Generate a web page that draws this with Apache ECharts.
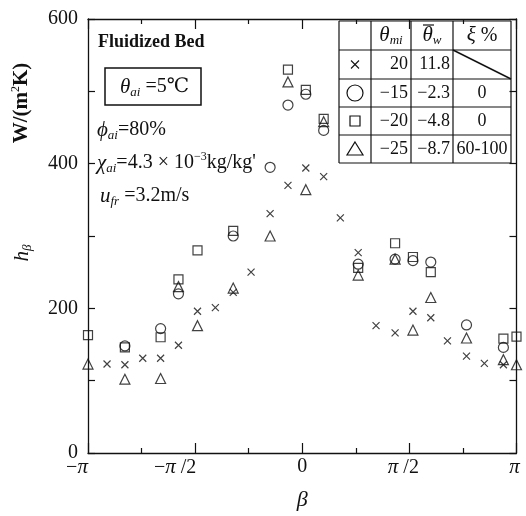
<!DOCTYPE html>
<html>
<head>
<meta charset="utf-8">
<script src="https://cdn.jsdelivr.net/npm/echarts@6/dist/echarts.min.js"></script>
<style>
html, body { margin: 0; background: #fff; }
#chart { width: 526px; height: 516px; }
</style>
</head>
<body>
<div id="chart"></div>
<script>
// beta in degrees (the axis prints multiples of pi), h in W/(m2K)
const crossBeta = [-164, -149, -134, -119, -104, -88, -73, -58, -43, -27, -12, 3, 18, 32, 47, 62, 78, 93, 108, 122, 138, 153, 169];
const crossH = [123, 122, 131, 131, 149, 196, 201, 222, 250, 331, 370, 394, 382, 325, 277, 176, 166, 196, 187, 155, 134, 124, 122];
const circleBeta = [-149, -119, -104, -58, -27, -12, 3, 18, 47, 78, 93, 108, 138, 169];
const circleH = [148, 172, 220, 300, 395, 481, 496, 446, 261, 268, 266, 264, 177, 146];
const squareBeta = [-180, -149, -119, -104, -88, -58, -12, 3, 18, 47, 78, 93, 108, 169, 180];
const squareH = [163, 146, 160, 240, 280, 307, 530, 502, 462, 256, 290, 271, 250, 158, 161];
const triBeta = [-180, -149, -119, -104, -88, -58, -27, -12, 3, 18, 47, 78, 93, 108, 138, 169, 180];
const triH = [123, 102, 103, 230, 176, 228, 300, 513, 364, 458, 246, 268, 170, 215, 159, 129, 122];

const xTicks = [-180, -90, 0, 90, 180];
const xTickLabels = ["−π", "−π /2", "0", "π /2", "π"];

const tableHead = ["", "{i|θ}{sub|mi}", "{i|θ}{sub|w}", "{i|ξ}{n| %}"];
const tableRows = [
  ["×", "20", "11.8", ""],
  ["○", "−15", "−2.3", "0"],
  ["□", "−20", "−4.8", "0"],
  ["△", "−25", "−8.7", "60-100"]
];

const SERIF = "'Liberation Serif', 'DejaVu Serif', serif";
const INK = "#111";

const rich = {
  n: {fontFamily: SERIF, fontSize: 20, lineHeight: 24, fill: INK, color: INK},
  b: {fontFamily: SERIF, fontSize: 18, fontWeight: "bold", lineHeight: 22, fill: INK, color: INK},
  yb: {fontFamily: SERIF, fontSize: 21, fontWeight: "bold", lineHeight: 24, fill: INK, color: INK},
  i: {fontFamily: SERIF, fontSize: 21, fontStyle: "italic", lineHeight: 24, fill: INK, color: INK},
  sub: {fontFamily: SERIF, fontSize: 13, fontStyle: "italic", lineHeight: 13, verticalAlign: "bottom", fill: INK, color: INK},
  sup: {fontFamily: SERIF, fontSize: 12, lineHeight: 13, verticalAlign: "top", fill: INK, color: INK},
  t: {fontFamily: SERIF, fontSize: 18, lineHeight: 20, fill: INK, color: INK}
};

// extra room to the right of some pi labels, so they sit left of their tick as printed
const xLabelPad = [22, 40, 0, 12, 4];
const xRich = {p: {fontFamily: SERIF, fontSize: 21, fontStyle: "italic", color: INK}};
xLabelPad.forEach((w, k) => { xRich["g" + k] = {width: w, fontSize: 10}; });

function pts(bs, hs) {
  return bs.map((b, k) => [b, hs[k]]);
}

function label(x, y, text, align) {
  return {
    type: "text", x: x, y: y,
    style: {text: text, rich: rich, align: align || "left", verticalAlign: "middle", fill: INK,
      fontFamily: SERIF, fontSize: 18}
  };
}

function line(x1, y1, x2, y2, w) {
  return {type: "line", shape: {x1: x1, y1: y1, x2: x2, y2: y2}, style: {stroke: INK, lineWidth: w || 1.2}};
}

function tableGraphics() {
  const colX = [339, 371, 411, 453, 511];
  const rowY = [21, 50, 79, 107, 135, 163];
  const els = [];
  colX.forEach(x => els.push(line(x, rowY[0], x, rowY[5])));
  rowY.forEach(y => els.push(line(colX[0], y, colX[4], y)));
  els.push(line(colX[3], rowY[1], colX[4], rowY[2], 1.5));
  const headY = (rowY[0] + rowY[1]) / 2;
  tableHead.forEach((h, c) => {
    if (h) els.push(label((colX[c] + colX[c + 1]) / 2, headY, h, "center"));
  });
  // bar over theta_w
  els.push(line(423, 25, 434, 25, 1.2));
  tableRows.forEach((row, r) => {
    const cy = (rowY[r + 1] + rowY[r + 2]) / 2;
    const cx = (colX[0] + colX[1]) / 2;
    if (row[0] === "×") {
      els.push(line(cx - 4, cy - 4, cx + 4, cy + 4, 1.1));
      els.push(line(cx - 4, cy + 4, cx + 4, cy - 4, 1.1));
    } else if (row[0] === "○") {
      els.push({type: "circle", shape: {cx: cx, cy: cy, r: 8}, style: {fill: "none", stroke: INK, lineWidth: 1.2}});
    } else if (row[0] === "□") {
      els.push({type: "rect", shape: {x: cx - 5, y: cy - 5, width: 10, height: 10}, style: {fill: "none", stroke: INK, lineWidth: 1.2}});
    } else {
      els.push({type: "polygon", shape: {points: [[cx, cy - 7], [cx + 8, cy + 6], [cx - 8, cy + 6]]}, style: {fill: "none", stroke: INK, lineWidth: 1.2}});
    }
    for (let c = 1; c <= 2; c++) {
      els.push(label(colX[c + 1] - 3, cy, "{t|" + row[c] + "}", "right"));
    }
    if (row[3]) {
      els.push(label((colX[3] + colX[4]) / 2, cy, "{t|" + row[3] + "}", "center"));
    }
  });
  return els;
}

const chart = echarts.init(document.getElementById("chart"), null, {renderer: "canvas"});

const axisLine = {show: true, onZero: false, lineStyle: {color: INK, width: 1.3}};
const tickStyle = {color: INK, width: 1.2};

chart.setOption({
  animation: false,
  backgroundColor: "#fff",
  grid: {left: 88, right: 8, top: 19, bottom: 61},
  xAxis: [
    {
      type: "value", min: -180, max: 180, interval: 90,
      axisLine: axisLine,
      axisTick: {show: true, inside: true, length: 10, lineStyle: tickStyle},
      minorTick: {show: true, splitNumber: 2, length: 5, lineStyle: tickStyle},
      splitLine: {show: false},
      axisLabel: {
        margin: 4, fontFamily: SERIF, fontSize: 20, color: INK,
        formatter: v => {
          const k = xTicks.indexOf(v);
          if (k < 0) return "";
          const pad = xLabelPad[k] ? "{g" + k + "| }" : "";
          return xTickLabels[k].replace(/π/g, "{p|π}") + pad;
        },
        rich: xRich
      },
      name: "β", nameLocation: "middle", nameGap: 36,
      nameTextStyle: {fontFamily: SERIF, fontSize: 22, fontStyle: "italic", color: INK}
    },
    {
      type: "value", position: "top", min: -180, max: 180, interval: 90,
      axisLine: axisLine,
      axisTick: {show: true, inside: true, length: 10, lineStyle: tickStyle},
      minorTick: {show: true, splitNumber: 2, length: 5, lineStyle: tickStyle},
      splitLine: {show: false},
      axisLabel: {show: false}
    }
  ],
  yAxis: [
    {
      type: "value", min: 0, max: 600, interval: 100,
      axisLine: axisLine,
      axisTick: {show: true, inside: true, length: 7, lineStyle: tickStyle},
      splitLine: {show: false},
      axisLabel: {
        margin: 10, fontFamily: SERIF, fontSize: 20, color: INK,
        formatter: v => (v % 200 === 0 ? String(v) : "")
      }
    },
    {
      type: "value", position: "right", min: 0, max: 600, interval: 100,
      axisLine: axisLine,
      axisTick: {show: true, inside: true, length: 7, lineStyle: tickStyle},
      splitLine: {show: false},
      axisLabel: {show: false}
    }
  ],
  series: [
    {
      type: "scatter", name: "20", data: pts(crossBeta, crossH), clip: false,
      symbol: "path://M0,0L10,10M10,0L0,10", symbolSize: 7,
      itemStyle: {color: "transparent", borderColor: INK, borderWidth: 1.2}
    },
    {
      type: "scatter", name: "-15", data: pts(circleBeta, circleH), clip: false,
      symbol: "circle", symbolSize: 10,
      itemStyle: {color: "transparent", borderColor: INK, borderWidth: 1.2}
    },
    {
      type: "scatter", name: "-20", data: pts(squareBeta, squareH), clip: false,
      symbol: "rect", symbolSize: 9,
      itemStyle: {color: "transparent", borderColor: INK, borderWidth: 1.2}
    },
    {
      type: "scatter", name: "-25", data: pts(triBeta, triH), clip: false,
      symbol: "triangle", symbolSize: 10,
      itemStyle: {color: "transparent", borderColor: INK, borderWidth: 1.2}
    }
  ],
  graphic: [
    label(98, 42, "{b|Fluidized Bed}"),
    {type: "rect", shape: {x: 105, y: 68, width: 96, height: 37}, style: {fill: "none", stroke: INK, lineWidth: 1.5}},
    label(120, 87, "{i|θ}{sub|ai}{n| =5℃}"),
    label(97, 130, "{i|ϕ}{sub|ai}{n|=80%}"),
    label(97, 163, "{i|χ}{sub|ai}{n|=4.3 × 10}{sup|−3}{n|kg/kg'}"),
    label(100, 196, "{i|u}{sub|fr}{n| =3.2m/s}"),
    Object.assign(label(22, 103, "{yb|W/(m}{sup|2}{yb|K)}", "center"), {rotation: Math.PI / 2}),
    Object.assign(label(22, 253, "{i|h}{sub|β}", "center"), {rotation: Math.PI / 2})
  ].concat(tableGraphics())
});
</script>
</body>
</html>
